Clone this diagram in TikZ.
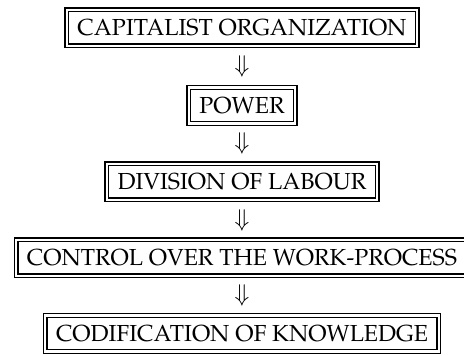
\documentclass[tikz,border=0pt]{standalone}
\usepackage[T1]{fontenc}
\usepackage{mathpazo}
\tikzset{
  stagebox/.style={draw=black, line width=0.7pt, double=white, double distance=1.1pt,
                   inner xsep=5.4pt, inner ysep=5pt, text height=8pt, text depth=0pt}
}
\begin{document}
\begin{tikzpicture}[x=0.5pt,y=-0.5pt,font=\fontsize{11.6}{13}\selectfont]
        \useasboundingbox (0,0) rectangle (464,356);

        \node[stagebox] (capital) at (242,28)    {CAPITALIST ORGANIZATION};
        \node[stagebox] (power)   at (242,105.5) {POWER};
        \node[stagebox] (labour)  at (242,182)   {DIVISION OF LABOUR};
        \node[stagebox] (control) at (242,258)   {CONTROL OVER THE WORK-PROCESS};
        \node[stagebox] (codify)  at (242,333.5) {CODIFICATION OF KNOWLEDGE};
        %
        \path (capital) -- node {$\Downarrow$} (power);
        \path (power)   -- node {$\Downarrow$} (labour);
        \path (labour)  -- node {$\Downarrow$} (control);
        \path (control) -- node {$\Downarrow$} (codify);

\end{tikzpicture}
\end{document}
